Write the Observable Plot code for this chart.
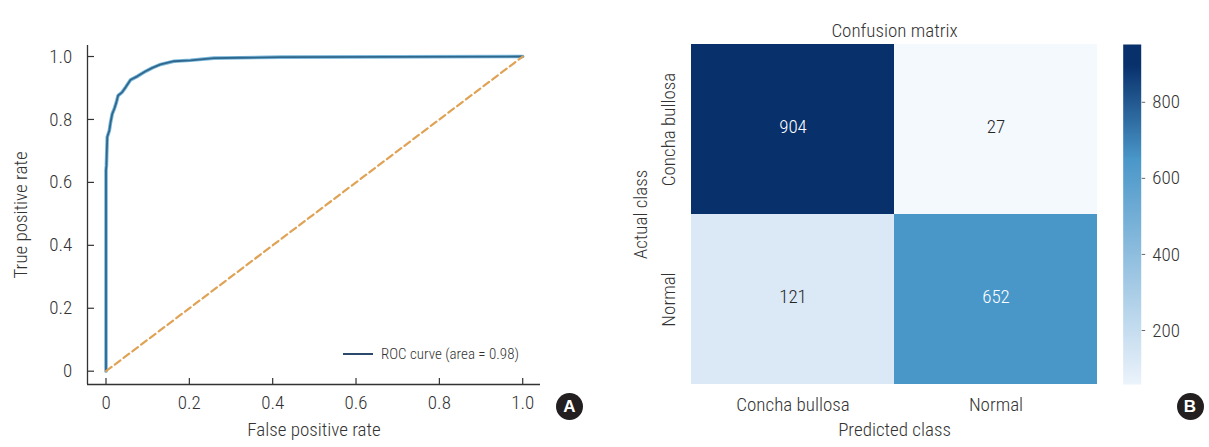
<!DOCTYPE html>
<html>
<head>
<meta charset="utf-8">
<script src="https://cdn.jsdelivr.net/npm/d3@7"></script>
<script src="https://cdn.jsdelivr.net/npm/@observablehq/plot@0.6"></script>
<style>
  html, body { margin: 0; padding: 0; background: #fff; }
  #figure { position: relative; width: 1209px; height: 447px; overflow: hidden; }
  #figure svg { position: absolute; top: 0; }
  .badge {
    position: absolute; width: 27px; height: 27px; border-radius: 50%;
    background: #231f20; color: #fff;
    font: bold 17px "Liberation Sans", Arial, sans-serif;
    display: flex; align-items: center; justify-content: center;
  }
  .legend {
    position: absolute; left: 343px; top: 344px; height: 19px;
    display: flex; align-items: center; color: #333;
    font-family: "Liberation Sans Narrow", "Roboto Condensed", "DejaVu Sans Condensed", "Liberation Sans", sans-serif;
    font-stretch: condensed; font-weight: 300; font-size: 15px; white-space: nowrap;
  }
  .legend .swatch { width: 30px; height: 2px; background: #2b4a6b; margin-right: 8px; }
</style>
</head>
<body>
<div id="figure"></div>
<script>
const FONT = '"Liberation Sans Narrow", "Roboto Condensed", "DejaVu Sans Condensed", "Liberation Sans", sans-serif';

// ---- ROC curve (panel A) ----
const fpr = [0, 0, 0.001, 0.002, 0.003, 0.008, 0.011, 0.015, 0.020, 0.025, 0.029, 0.039, 0.047, 0.059,
             0.075, 0.095, 0.111, 0.131, 0.163, 0.203, 0.259, 0.323, 0.419, 1];
const tpr = [0, 0.638, 0.654, 0.701, 0.744, 0.765, 0.791, 0.818, 0.834, 0.855, 0.876, 0.887, 0.902, 0.926,
             0.937, 0.953, 0.964, 0.975, 0.985, 0.988, 0.995, 0.996, 0.998, 1];
const chanceX = [0, 1];
const chanceY = [0, 1];
const rateTicks = [0, 0.2, 0.4, 0.6, 0.8, 1.0];
const rocLegendLabel = "ROC curve (area = 0.98)";

// ---- Confusion matrix (panel B) ----
const classes = ["Concha bullosa", "Normal"];
const actualClass = ["Concha bullosa", "Concha bullosa", "Normal", "Normal"];
const predictedClass = ["Concha bullosa", "Normal", "Concha bullosa", "Normal"];
const cellCounts = [904, 27, 121, 652];
const colorbarTicks = [200, 400, 600, 800];
const colorbarDomain = [58, 952];

// blue ramp used by the cells and the colour bar
const rampStops = [25, 120, 650, 900];
const rampColors = ["#f5f9fe", "#dbe9f6", "#4a97c9", "#08306b"];
const colorScale = {type: "linear", domain: rampStops, range: rampColors, interpolate: "rgb", clamp: true};

const H = 447;
const baseStyle = {fontFamily: FONT, fontStretch: "condensed", fontWeight: 300, fontSize: "19px",
                   color: "#333", background: "transparent", overflow: "visible"};
const fig = document.getElementById("figure");

// ROC panel
const roc = fpr.map((x, i) => ({x, y: tpr[i]}));
const chance = chanceX.map((x, i) => ({x, y: chanceY[i]}));
const xDom = [-0.0444, 1.0427];
const yDom = [-0.0423, 1.035];
const fmtRate = d => d === 0 ? "0" : d.toFixed(1);

const rocPlot = Plot.plot({
  width: 600, height: H,
  marginLeft: 87, marginRight: 60, marginTop: 45, marginBottom: H - 384,
  style: baseStyle,
  x: {domain: xDom},
  y: {domain: yDom},
  marks: [
    Plot.ruleX([xDom[0]], {stroke: "#333", strokeWidth: 1.3}),
    Plot.ruleY([yDom[0]], {stroke: "#333", strokeWidth: 1.3}),
    Plot.axisX(rateTicks, {anchor: "bottom", tickSize: -6, tickPadding: 17, tickFormat: fmtRate,
                           label: null, strokeWidth: 1.2}),
    Plot.axisY(rateTicks, {anchor: "left", tickSize: -7, tickPadding: 22.3, tickFormat: fmtRate,
                           label: null, strokeWidth: 1.2}),
    Plot.line(roc, {x: "x", y: "y", stroke: "#7ab8dc", strokeWidth: 3.6}),
    Plot.line(roc, {x: "x", y: "y", stroke: "#30678c", strokeWidth: 1.8}),
    Plot.line(chance, {x: "x", y: "y", stroke: "#e0a254", strokeWidth: 2.2, strokeDasharray: "7,4"}),
    Plot.text(["False positive rate"], {text: d => d, frameAnchor: "bottom", dy: 51}),
    Plot.text(["True positive rate"], {text: d => d, frameAnchor: "left", textAnchor: "middle",
                                       rotate: -90, dx: -67})
  ]
});
rocPlot.style.left = "0px";
fig.appendChild(rocPlot);

// Confusion matrix panel
const cells = cellCounts.map((n, i) => ({actual: actualClass[i], predicted: predictedClass[i], n}));
const heatPlot = Plot.plot({
  width: 500, height: H,
  marginLeft: 91, marginRight: 3, marginTop: 44, marginBottom: H - 384,
  style: baseStyle,
  x: {domain: classes, padding: 0, axis: null},
  y: {domain: classes, padding: 0, axis: null},
  color: colorScale,
  marks: [
    Plot.cell(cells, {x: "predicted", y: "actual", fill: "n"}),
    Plot.text(cells, {filter: d => d.n > 500, x: "predicted", y: "actual", text: d => String(d.n),
                      fill: "#ffffff", dy: -3}),
    Plot.text(cells, {filter: d => d.n <= 500, x: "predicted", y: "actual", text: d => String(d.n),
                      fill: "#262626", dy: -3}),
    Plot.axisX({anchor: "bottom", tickSize: 0, tickPadding: 12.7, label: null}),
    Plot.text(classes, {y: d => d, text: d => d, frameAnchor: "left", textAnchor: "middle",
                        rotate: -90, dx: -23}),
    Plot.text(["Actual class"], {text: d => d, frameAnchor: "left", textAnchor: "middle",
                                 rotate: -90, dx: -51}),
    Plot.text(["Predicted class"], {text: d => d, frameAnchor: "bottom", dy: 51}),
    Plot.text(["Confusion matrix"], {text: d => d, frameAnchor: "top", dy: -21})
  ]
});
heatPlot.style.left = "600px";
fig.appendChild(heatPlot);

// Colour bar
const barPlot = Plot.plot({
  width: 109, height: H,
  marginLeft: 22.7, marginRight: 68.3, marginTop: 44, marginBottom: H - 384,
  style: baseStyle,
  x: {domain: [0, 1], axis: null},
  y: {domain: colorbarDomain, axis: null},
  color: colorScale,
  marks: [
    Plot.raster({x1: 0, x2: 1, y1: colorbarDomain[0], y2: colorbarDomain[1],
                 fill: (x, y) => y, pixelSize: 1}),
    Plot.axisY(colorbarTicks, {anchor: "right", tickSize: 3.5, tickPadding: 7.5, label: null,
                               stroke: "#666"})
  ]
});
barPlot.style.left = "1100px";
fig.appendChild(barPlot);

// legend and panel badges
const legend = document.createElement("div");
legend.className = "legend";
legend.innerHTML = `<span class="swatch"></span><span></span>`;
legend.lastChild.textContent = rocLegendLabel;
fig.appendChild(legend);

[["A", 569.5], ["B", 1190]].forEach(([letter, cx]) => {
  const b = document.createElement("div");
  b.className = "badge";
  b.textContent = letter;
  b.style.left = (cx - 13.5) + "px";
  b.style.top = (406.7 - 13.5) + "px";
  fig.appendChild(b);
});
</script>
</body>
</html>
